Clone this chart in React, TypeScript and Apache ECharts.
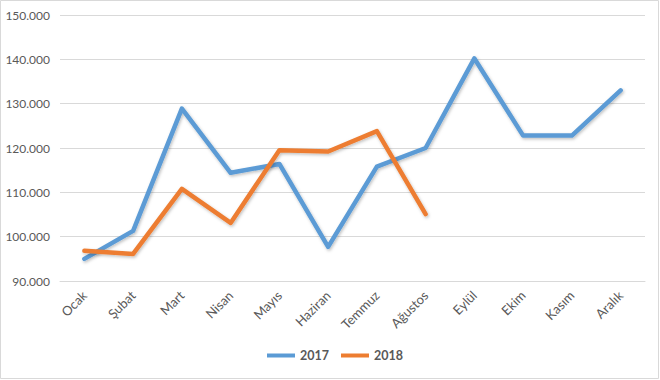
import React, { useEffect, useRef } from "react";
import * as echarts from "echarts";

const months = ["Ocak", "Şubat", "Mart", "Nisan", "Mayıs", "Haziran", "Temmuz", "Ağustos", "Eylül", "Ekim", "Kasım", "Aralık"];
const values2017 = [95000, 101300, 128900, 114400, 116400, 97700, 115800, 120000, 140200, 122800, 122800, 133000];
const values2018 = [96800, 96100, 110800, 103100, 119500, 119200, 123800, 105100];
const seriesNames = ["2017", "2018"];
const seriesColors = ["#5B9BD5", "#ED7D31"];

const fmt = (v: number) => String(v).replace(/\B(?=(\d{3})+(?!\d))/g, ".");

export default function App() {
  const ref = useRef<HTMLDivElement>(null);
  useEffect(() => {
    if (!ref.current) return;
    const chart = echarts.init(ref.current, null, { renderer: "svg" });
    const font = "Lato, 'Open Sans', sans-serif";
    const mkSeries = (name: string, data: number[], color: string) => ({
      name,
      type: "line",
      data,
      symbol: "none",
      lineStyle: {
        width: 4.5,
        color,
        shadowColor: "rgba(0,0,0,0.25)",
        shadowBlur: 3,
        shadowOffsetX: 1,
        shadowOffsetY: 1.5,
        join: "round",
        cap: "round",
      },
      itemStyle: { color },
    });
    chart.setOption({
      animation: false,
      backgroundColor: "#ffffff",
      textStyle: { fontFamily: font },
      graphic: [
        {
          type: "rect",
          shape: { x: 0.5, y: 0.5, width: 658, height: 378 },
          style: { fill: "none", stroke: "#d9d9d9", lineWidth: 1 },
          silent: true,
        },
      ],
      grid: { left: 60, right: 15, top: 15, bottom: 99, containLabel: false },
      legend: {
        bottom: 13,
        left: 262,
        itemWidth: 28,
        itemHeight: 4,
        itemGap: 12,
        icon: "rect",
        textStyle: { color: "#595959", fontSize: 12.5, fontWeight: "bold", fontFamily: font },
        data: seriesNames,
      },
      xAxis: {
        type: "category",
        data: months,
        boundaryGap: true,
        axisLine: { show: true, lineStyle: { color: "#d9d9d9", width: 1 } },
        axisTick: { show: false },
        axisLabel: { rotate: 45, color: "#595959", fontSize: 13, margin: 12, fontFamily: font },
      },
      yAxis: {
        type: "value",
        min: 90000,
        max: 150000,
        interval: 10000,
        axisLine: { show: false },
        axisTick: { show: false },
        splitLine: { lineStyle: { color: "#d9d9d9", width: 1 } },
        axisLabel: { color: "#595959", fontSize: 12, margin: 10, formatter: (v: number) => fmt(v), fontFamily: font },
      },
      series: [
        mkSeries(seriesNames[0], values2017, seriesColors[0]),
        mkSeries(seriesNames[1], values2018, seriesColors[1]),
      ],
    });
    return () => chart.dispose();
  }, []);
  return <div ref={ref} style={{ position: "absolute", left: 0, top: 0, width: 660, height: 380 }} />;
}
